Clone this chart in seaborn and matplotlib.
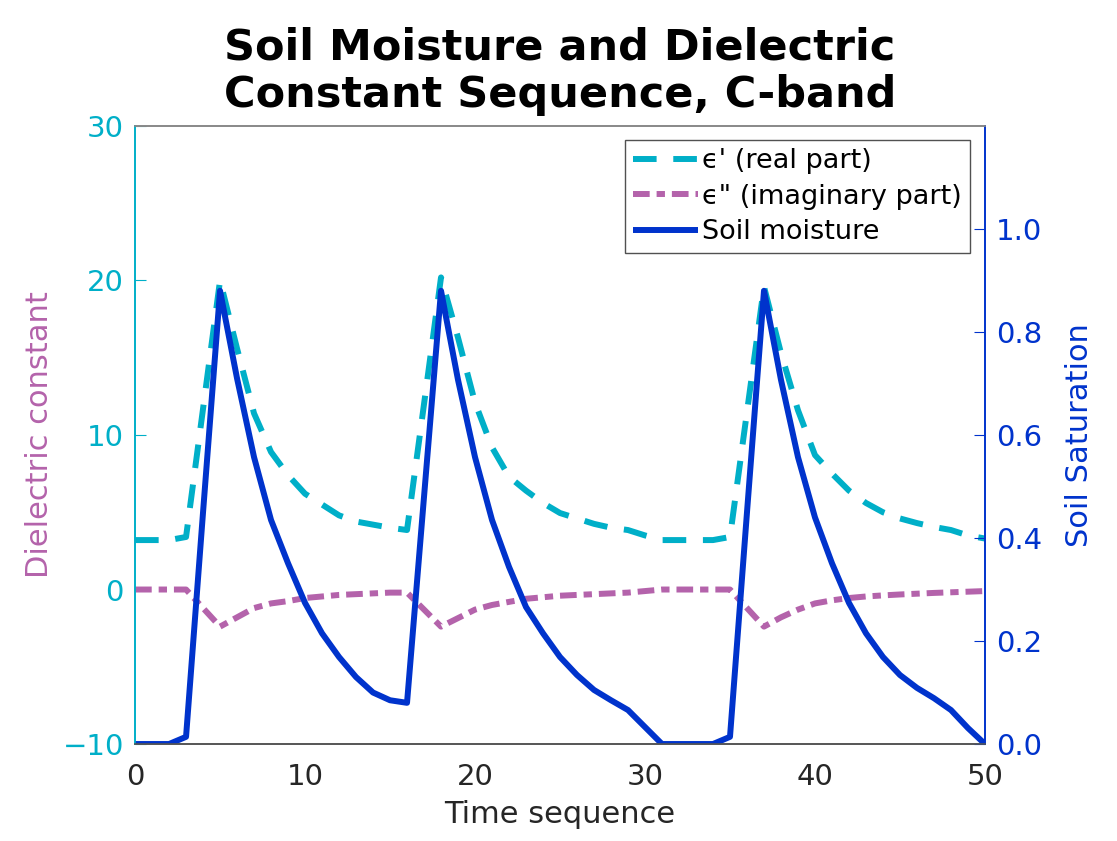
import numpy as np
import pandas as pd
import matplotlib
matplotlib.use('Agg')
import matplotlib.pyplot as plt
import seaborn as sns

# Data
time_seq = list(range(51))

eps_real = [3.2, 3.2, 3.2, 3.4, 11.7,
            20.0, 15.6, 11.4, 8.9, 7.4, 6.2, 5.5, 4.8, 4.4, 4.2, 4.0, 3.85,
            12.0, 20.2, 16.3, 12.1, 9.2, 7.3, 6.4, 5.6, 4.95, 4.6, 4.25, 4.0, 3.85, 3.5,
            3.2, 3.2, 3.2, 3.2,
            3.4, 11.5, 19.6, 15.3, 11.6, 8.7, 7.5, 6.4, 5.6, 5.0, 4.6, 4.3, 4.05, 3.85, 3.5, 3.3]

eps_imag = [0, 0, 0, 0, -1.2,
            -2.4, -1.8, -1.2, -0.9, -0.75, -0.55, -0.45, -0.35, -0.3, -0.25, -0.2, -0.2,
            -1.3, -2.4, -1.85, -1.3, -1.0, -0.8, -0.6, -0.5, -0.4, -0.35, -0.3, -0.25, -0.2, -0.1,
            0, 0, 0, 0,
            0, -1.2, -2.4, -1.8, -1.3, -0.9, -0.7, -0.55, -0.45, -0.38, -0.32, -0.27, -0.22, -0.18, -0.14, -0.1]

soil_sat = [0, 0, 0, 0.014, 0.45,
            0.88, 0.71, 0.557, 0.435, 0.351, 0.274, 0.215, 0.169, 0.13, 0.10, 0.085, 0.08,
            0.48, 0.88, 0.707, 0.557, 0.435, 0.344, 0.266, 0.215, 0.169, 0.134, 0.105, 0.085, 0.066, 0.033,
            0, 0, 0, 0,
            0.014, 0.45, 0.88, 0.707, 0.557, 0.44, 0.351, 0.274, 0.215, 0.169, 0.134, 0.109, 0.089, 0.066, 0.031, 0]

left_ticks = [-10, 0, 10, 20, 30]
right_ticks = [0.0, 0.2, 0.4, 0.6, 0.8, 1.0]
x_ticks = [0, 10, 20, 30, 40, 50]

df = pd.DataFrame({'t': time_seq, 'real': eps_real, 'imag': eps_imag, 'soil': soil_sat})

sns.set_style('white')
plt.rcParams['font.family'] = ['DejaVu Sans']
plt.rcParams['lines.scale_dashes'] = False

c_cyan = '#00AFC8'
c_mag = '#B463AB'
c_blue = '#0033CC'
c_dark = '#262626'

fig = plt.figure(figsize=(11.17, 8.41), dpi=100)
ax = fig.add_axes([0.1209, 0.1153, 0.7609, 0.7349])
ax2 = ax.twinx()

sns.lineplot(data=df, x='t', y='real', ax=ax, color=c_cyan, lw=4.3,
             label="\u03f5' (real part)", legend=False)
sns.lineplot(data=df, x='t', y='imag', ax=ax, color=c_mag, lw=4.3,
             label='\u03f5" (imaginary part)', legend=False)
sns.lineplot(data=df, x='t', y='soil', ax=ax2, color=c_blue, lw=4.3,
             label='Soil moisture', legend=False)

ax.lines[0].set_dashes([17, 12])
ax.lines[1].set_dashes([12, 5, 6, 5])
for ln in ax.lines + ax2.lines:
    ln.set_solid_capstyle('butt')
    ln.set_dash_capstyle('butt')

ax.set_xlim(0, 50)
ax.set_ylim(-10, 30)
ax2.set_ylim(0, 1.2)
ax.set_xticks(x_ticks)
ax.set_yticks(left_ticks)
ax2.set_yticks(right_ticks)
ax2.set_yticklabels([f'{v:.1f}' for v in right_ticks])

ax.tick_params(axis='x', direction='in', length=8, colors=c_dark, labelsize=21, pad=14)
ax.tick_params(axis='y', direction='in', length=8, colors=c_cyan, labelsize=21, pad=8)
ax2.tick_params(axis='y', direction='in', length=8, colors=c_blue, labelsize=21, pad=8)

for a in (ax, ax2):
    a.spines['top'].set_color('#888888')
    a.spines['bottom'].set_color('#555555')
    a.spines['left'].set_color(c_cyan)
    a.spines['right'].set_color(c_blue)
    a.spines['right'].set_visible(True)
    for s in a.spines.values():
        s.set_linewidth(1.2)

ax.set_xlabel('Time sequence', fontsize=22, color=c_dark, labelpad=6)
ax.set_ylabel('Dielectric constant', fontsize=22, color=c_mag, labelpad=6)
ax2.set_ylabel('Soil Saturation', fontsize=22, color=c_blue, labelpad=16)

ax.set_title('Soil Moisture and Dielectric\nConstant Sequence, C-band',
             fontsize=31, fontweight='bold', pad=14, linespacing=1.15, color='black')

handles = ax.lines + ax2.lines
labels = [h.get_label() for h in handles]
leg = ax2.legend(handles, labels, loc='upper right', bbox_to_anchor=(0.982, 0.977),
                 fontsize=19.5, frameon=True, fancybox=False, borderpad=0.3,
                 handlelength=2.4, handletextpad=0.15, labelspacing=0.35, borderaxespad=0,
                 labelcolor='black')
leg.get_frame().set_edgecolor('#262626')
leg.get_frame().set_linewidth(1.0)

fig.savefig('out.png', dpi=100)
